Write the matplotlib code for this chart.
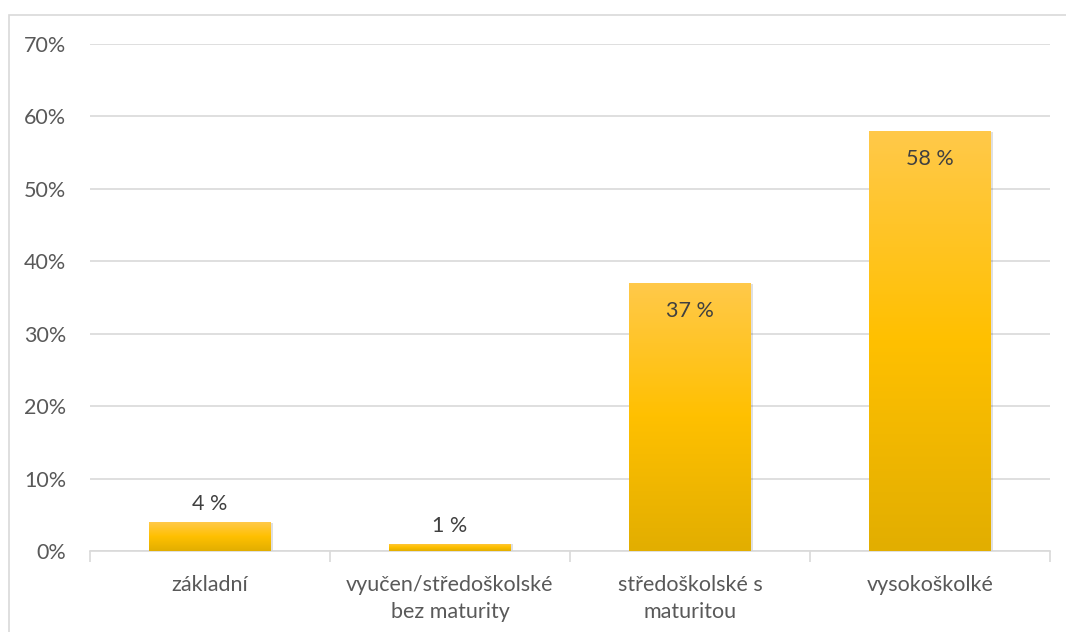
import numpy as np
import matplotlib.pyplot as plt
from matplotlib.colors import LinearSegmentedColormap
from matplotlib.patches import Rectangle

kategorie = ['základní', 'vyučen/středoškolské\nbez maturity', 'středoškolské s\nmaturitou', 'vysokoškolké']
hodnoty = [4, 1, 37, 58]
popisky = ['4 %', '1 %', '37 %', '58 %']
y_ticky = [0, 10, 20, 30, 40, 50, 60, 70]

plt.rcParams['font.family'] = ['Lato', 'DejaVu Sans']
text_barva = '#595959'
mrizka = '#D9D9D9'
velikost = 15.5

fig = plt.figure(figsize=(10.66, 6.32), dpi=100)
ax = fig.add_axes([90 / 1066, 1 - 551 / 632, 960 / 1066, 507 / 632])

# okraj grafu
fig.patches.append(Rectangle((9 / 1066, -0.1), 1.2, 1 - 15 / 632 + 0.1, transform=fig.transFigure,
                             fill=False, edgecolor='#D9D9D9', linewidth=1.2))

x = np.arange(len(kategorie))
sirka = 0.505
gradient = LinearSegmentedColormap.from_list('zluta', ['#E2AE00', '#FFC000', '#FFC94A'])
grad = np.linspace(0, 1, 256).reshape(-1, 1)

bary = ax.bar(x, hodnoty, width=sirka, color='#FFC000', zorder=3)
for b in bary:
    # jemny stin
    stin = Rectangle((b.get_x() + 0.006, 0), b.get_width() + 0.006, b.get_height() - 0.1,
                     facecolor='#000000', alpha=0.12, edgecolor='none', zorder=2)
    ax.add_patch(stin)
    im = ax.imshow(grad, cmap=gradient, origin='lower', aspect='auto', zorder=3,
                   extent=[b.get_x(), b.get_x() + b.get_width(), 0, b.get_height()])
    im.set_clip_path(b)

for i, (v, t) in enumerate(zip(hodnoty, popisky)):
    if v > 10:
        ax.text(x[i], v - 2.5, t, ha='center', va='top', fontsize=velikost, color='#404040', zorder=5)
    else:
        ax.text(x[i], v + 1.1, t, ha='center', va='bottom', fontsize=velikost, color='#404040', zorder=5)

ax.set_xlim(-0.5, len(kategorie) - 0.5)
ax.set_ylim(0, 70)
ax.set_yticks(y_ticky)
ax.set_yticklabels([f'{t}%' for t in y_ticky])
ax.yaxis.grid(True, color=mrizka, linewidth=1.2, zorder=0)
ax.set_axisbelow(True)

ax.set_xticks(x)
ax.set_xticklabels(kategorie, linespacing=1.45)
ax.set_xticks(np.arange(-0.5, len(kategorie)), minor=True)
ax.tick_params(axis='x', which='major', length=0, pad=17, labelsize=velikost, labelcolor=text_barva)
ax.tick_params(axis='x', which='minor', length=8, color=mrizka, width=1.2)
ax.tick_params(axis='y', length=0, pad=17, labelsize=velikost, labelcolor=text_barva)

for s in ['top', 'right', 'left']:
    ax.spines[s].set_visible(False)
ax.spines['bottom'].set_color(mrizka)
ax.spines['bottom'].set_linewidth(1.2)

fig.savefig('out.png', dpi=100)
